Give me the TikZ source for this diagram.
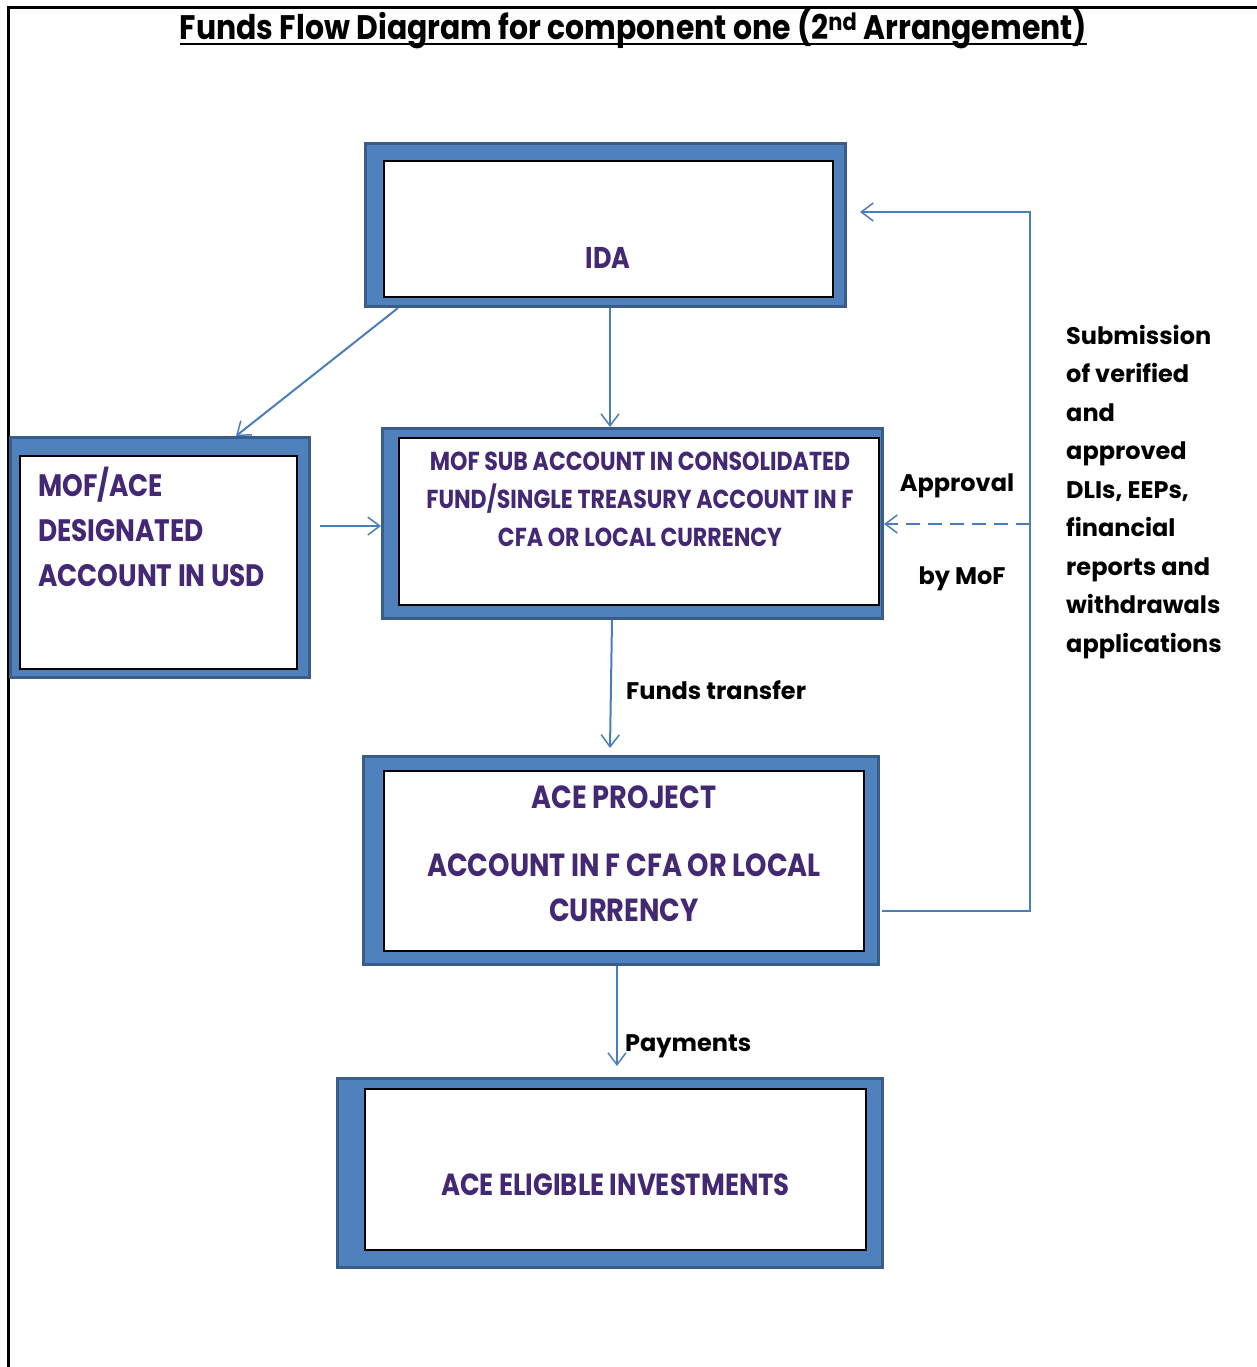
\documentclass[tikz,border=0pt]{standalone}
\usepackage{fontspec}
\setmainfont{Poppins}
\newfontfamily\boxfont[FakeStretch=0.85]{Poppins}
\usetikzlibrary{arrows.meta,calc}
\definecolor{boxblue}{HTML}{4F81BD}
\definecolor{boxedge}{HTML}{385D8A}
\definecolor{arrowblue}{HTML}{4A7EBB}
\definecolor{txtpurple}{HTML}{432874}
\begin{document}
\begin{tikzpicture}[x=1pt,y=-1pt,
  outerbox/.style={draw=boxedge,line width=3pt,fill=boxblue,inner sep=0pt},
  innerbox/.style={draw=black,line width=1.2pt,fill=white,inner sep=0pt},
  boxtext/.style={text=txtpurple,inner sep=0pt},
  lbl/.style={font=\bfseries\fontsize{24}{28}\selectfont,text=black,inner sep=0pt},
  arr/.style={draw=arrowblue,line width=2pt,-{Straight Barb[length=12pt,width=18pt,line width=1.5pt]}},
  dashline/.style={dash pattern=on 14pt off 8pt},
]
\useasboundingbox (0,0) rectangle (1257,1367);
% page frame
\draw[line width=3pt] (8.5,1367) -- (8.5,8) -- (1257,8);
% title
\node[anchor=base,inner sep=0pt] (title) at (633.5,40)
  {\resizebox{907pt}{\height}{\bfseries\fontsize{34}{40}\selectfont Funds Flow Diagram for component one (2\textsuperscript{nd} Arrangement)}};
\draw[line width=2.5pt] ($(title.base west)+(0,4)$) -- ($(title.base east)+(0,4)$);
% IDA
\node[outerbox,minimum width=480pt,minimum height=163pt] (ida) at (605.5,225) {};
\node[innerbox,minimum width=449pt,minimum height=136pt] (idain) at (608.5,229) {};
\node[boxtext,font=\boxfont\bfseries\fontsize{30}{34}\selectfont] (idatext) at (608,258) {IDA};
% MOF/ACE designated
\node[outerbox,minimum width=299pt,minimum height=240pt] (mofusd) at (160,557.5) {};
\node[innerbox,minimum width=277pt,minimum height=213pt] (mofusdin) at (158.5,562.5) {};
\node[boxtext,anchor=north west,align=left,font=\boxfont\bfseries\fontsize{31}{45}\selectfont] (mofusdtext) at (38,467)
  {MOF/ACE\\DESIGNATED\\ACCOUNT IN USD};
% MOF sub account
\node[outerbox,minimum width=500pt,minimum height=190pt] (sub) at (632.5,523.5) {};
\node[innerbox,minimum width=480pt,minimum height=167pt] (subin) at (639,521.5) {};
\node[boxtext,anchor=north,align=center,font=\boxfont\bfseries\fontsize{26}{38}\selectfont] (subtext) at (640,452)
  {MOF SUB ACCOUNT IN CONSOLIDATED\\FUND/SINGLE TREASURY ACCOUNT IN F\\CFA OR LOCAL CURRENCY};
% ACE project
\node[outerbox,minimum width=515pt,minimum height=208pt] (ace) at (621,860.5) {};
\node[innerbox,minimum width=480pt,minimum height=180pt] (acein) at (624,861) {};
\node[boxtext,anchor=north,align=center,font=\boxfont\bfseries\fontsize{32}{45}\selectfont] (acetext) at (624,786)
  {ACE PROJECT\\[23pt]ACCOUNT IN F CFA OR LOCAL\\CURRENCY};
% ACE eligible investments
\node[outerbox,minimum width=545pt,minimum height=189pt] (elig) at (610,1173) {};
\node[innerbox,minimum width=501pt,minimum height=161pt] (eligin) at (615.5,1169.5) {};
\node[boxtext,font=\boxfont\bfseries\fontsize{30.5}{34}\selectfont] (eligtext) at (615.5,1185) {ACE ELIGIBLE INVESTMENTS};
% labels
\node[fill=white,inner sep=0pt,minimum width=146pt,minimum height=46pt] (approvalbg) at (956.5,480) {};
\node[lbl] (approval) at (957,486) {Approval};
\node[lbl] (bymof) at (962,579) {by MoF};
\node[lbl,anchor=west] (fundstr) at (626,690) {Funds transfer};
\node[lbl,anchor=west] (payments) at (625,1046) {Payments};
\node[lbl,anchor=north west,align=left,font=\bfseries\fontsize{24}{38.5}\selectfont] (submission) at (1066,325)
  {Submission\\of verified\\and\\approved\\DLIs, EEPs,\\financial\\reports and\\withdrawals\\applications};
% connectors
\coordinate (loopc) at (1030,212);
\coordinate (dashc) at (1030,524);
\draw[arr] ($(ida.south west)+(34,0)$) -- ($(mofusd.north)+(76,0)$);
\draw[arr] ($(ida.south)+(4.5,0)$) -- ($(sub.north)+(-22.5,0)$);
\draw[arr] ($(mofusd.east)+(9,-31.5)$) -- ($(sub.west)+(0,2.5)$);
\draw[arr] ($(sub.south)+(-20.5,0)$) -- ($(ace.north)+(-11,-7)$);
\draw[arr] ($(ace.south)+(-4,0)$) -- ($(elig.north)+(7,-11)$);
\draw[arr] ($(ace.east)+(2,50.5)$) -| (loopc) -- ($(ida.east)+(13,-13)$);
\draw[arr,dashline] (dashc) -- ($(sub.east)+(0,0.5)$);
\end{tikzpicture}
\end{document}
